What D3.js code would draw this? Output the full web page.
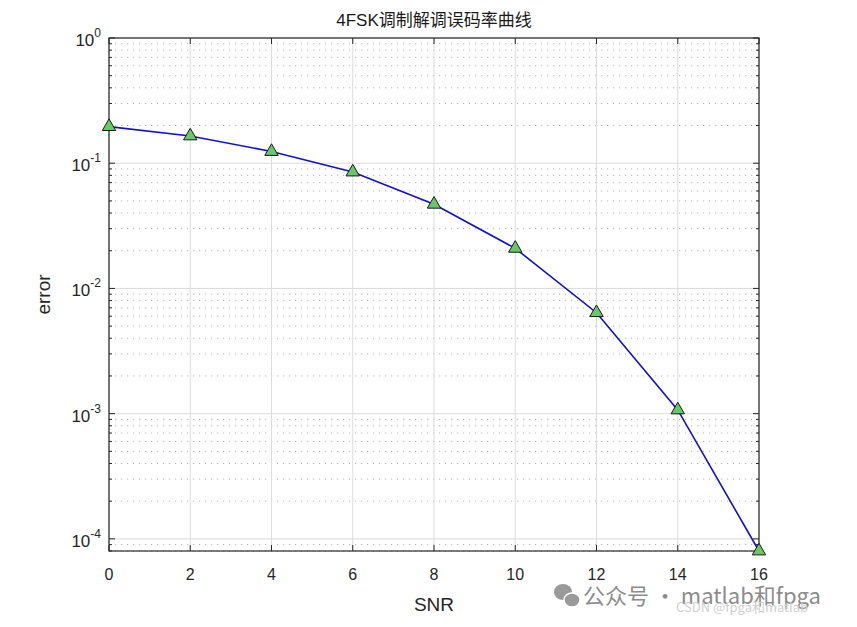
<!DOCTYPE html>
<html>
<head>
<meta charset="utf-8">
<script src="https://cdn.jsdelivr.net/npm/d3@7"></script>
<style>
  body { margin: 0; background: #fff; }
  text { font-family: "Liberation Sans", Arial, sans-serif; }
</style>
</head>
<body>
<div id="chart"></div>
<script>
const snr = [0, 2, 4, 6, 8, 10, 12, 14, 16];
const ber = [0.196, 0.165, 0.124, 0.085, 0.047, 0.0209, 0.0064, 0.00107, 0.00008];
const xTicks = [0, 2, 4, 6, 8, 10, 12, 14, 16];
const yDecades = [0, -1, -2, -3, -4];

const width = 857, height = 627;
const margin = { top: 38, right: 98, bottom: 76, left: 109 };
const w = width - margin.left - margin.right;
const h = height - margin.top - margin.bottom;

const svg = d3.select('#chart').append('svg')
    .attr('width', width)
    .attr('height', height);

const x = d3.scaleLinear().domain([0, 16]).range([0, w]);
const y = d3.scaleLog().domain([8e-5, 1]).range([h, 0]);

const g = svg.append('g')
    .attr('transform', `translate(${margin.left},${margin.top})`);

// minor grid values (2..9 in each decade)
const minors = [];
for (let e = -5; e < 0; e++) {
    for (let m = 2; m <= 9; m++) {
        const v = m * Math.pow(10, e);
        if (v >= 8e-5 && v < 1) minors.push(v);
    }
}

g.append('g').selectAll('line')
    .data(minors)
    .enter().append('line')
    .attr('x1', 0).attr('x2', w)
    .attr('y1', d => y(d)).attr('y2', d => y(d))
    .attr('stroke', '#b4b4b4')
    .attr('stroke-width', 1)
    .attr('stroke-dasharray', '1.2,4.8');

g.append('g').selectAll('line')
    .data(yDecades)
    .enter().append('line')
    .attr('x1', 0).attr('x2', w)
    .attr('y1', d => y(Math.pow(10, d))).attr('y2', d => y(Math.pow(10, d)))
    .attr('stroke', '#dcdcdc');

g.append('g').selectAll('line')
    .data(xTicks)
    .enter().append('line')
    .attr('x1', d => x(d)).attr('x2', d => x(d))
    .attr('y1', 0).attr('y2', h)
    .attr('stroke', '#dcdcdc');

// ticks (inside, on all four sides)
const axisColor = '#262626';
const ticks = g.append('g').attr('stroke', axisColor);
xTicks.forEach(t => {
    ticks.append('line').attr('x1', x(t)).attr('x2', x(t)).attr('y1', h).attr('y2', h - 6);
    ticks.append('line').attr('x1', x(t)).attr('x2', x(t)).attr('y1', 0).attr('y2', 6);
});
yDecades.forEach(d => {
    const yy = y(Math.pow(10, d));
    ticks.append('line').attr('x1', 0).attr('x2', 6).attr('y1', yy).attr('y2', yy);
    ticks.append('line').attr('x1', w).attr('x2', w - 6).attr('y1', yy).attr('y2', yy);
});
minors.forEach(v => {
    const yy = y(v);
    ticks.append('line').attr('x1', 0).attr('x2', 3).attr('y1', yy).attr('y2', yy);
    ticks.append('line').attr('x1', w).attr('x2', w - 3).attr('y1', yy).attr('y2', yy);
});

g.append('rect')
    .attr('width', w).attr('height', h)
    .attr('fill', 'none')
    .attr('stroke', axisColor)
    .attr('stroke-width', 1.2);

// tick labels
g.append('g').selectAll('text')
    .data(xTicks)
    .enter().append('text')
    .attr('x', d => x(d))
    .attr('y', h + 29)
    .attr('text-anchor', 'middle')
    .attr('font-size', 16)
    .attr('fill', axisColor)
    .text(d => d);

const yl = g.append('g').selectAll('text')
    .data(yDecades)
    .enter().append('text')
    .attr('x', -8)
    .attr('y', d => y(Math.pow(10, d)) + 8)
    .attr('text-anchor', 'end')
    .attr('font-size', 17)
    .attr('fill', axisColor);
yl.append('tspan').text('10');
yl.append('tspan')
    .attr('dy', -9)
    .attr('font-size', 12)
    .text(d => d === 0 ? '0' : '-' + Math.abs(d));

// data line
const line = d3.line()
    .x((d, i) => x(snr[i]))
    .y(d => y(d));

g.append('path')
    .datum(ber)
    .attr('d', line)
    .attr('fill', 'none')
    .attr('stroke', '#1010d0')
    .attr('stroke-width', 1.6);

g.append('g').selectAll('path')
    .data(ber)
    .enter().append('path')
    .attr('transform', (d, i) => `translate(${x(snr[i])},${y(d)})`)
    .attr('d', d3.symbol().type(d3.symbolTriangle).size(78))
    .attr('fill', '#66c866')
    .attr('stroke', '#1a1a1a')
    .attr('stroke-width', 1);

// titles
svg.append('text')
    .attr('x', margin.left + w / 2)
    .attr('y', 26)
    .attr('text-anchor', 'middle')
    .attr('font-size', 17)
    .attr('fill', '#1a1a1a')
    .style('font-family', '"Liberation Sans", "Noto Sans CJK SC", sans-serif')
    .text('4FSK调制解调误码率曲线');

svg.append('text')
    .attr('x', margin.left + w / 2)
    .attr('y', 611)
    .attr('text-anchor', 'middle')
    .attr('font-size', 19)
    .attr('fill', axisColor)
    .text('SNR');

svg.append('text')
    .attr('transform', `translate(50,${margin.top + h / 2}) rotate(-90)`)
    .attr('text-anchor', 'middle')
    .attr('font-size', 19)
    .attr('fill', axisColor)
    .text('error');

// watermark
const wm = svg.append('g');
wm.append('ellipse').attr('cx', 563).attr('cy', 592).attr('rx', 9).attr('ry', 8).attr('fill', '#9a9a9a');
wm.append('ellipse').attr('cx', 572).attr('cy', 600).attr('rx', 8).attr('ry', 7).attr('fill', '#9a9a9a').attr('stroke', '#fff').attr('stroke-width', 1.5);
wm.append('text')
    .attr('x', 583).attr('y', 604)
    .attr('font-size', 22)
    .attr('fill', '#8c8c8c')
    .style('font-family', '"Noto Sans CJK SC", sans-serif')
    .text('公众号 · matlab和fpga');
wm.append('text')
    .attr('x', 676).attr('y', 612)
    .attr('font-size', 13)
    .attr('fill', '#d0d0d0')
    .style('font-family', '"Noto Sans CJK SC", sans-serif')
    .text('CSDN @fpga和matlab');
</script>
</body>
</html>
